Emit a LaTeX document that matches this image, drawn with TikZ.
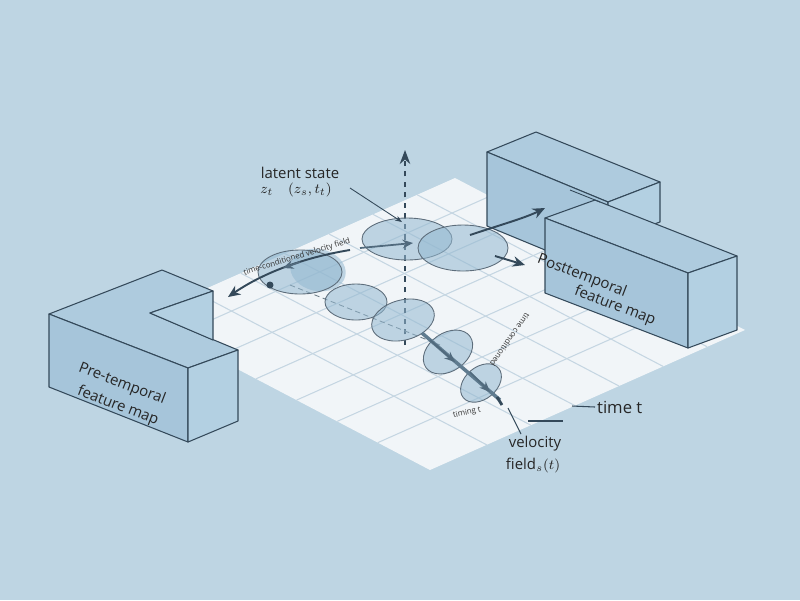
\documentclass[tikz,border=0pt]{standalone}
\usepackage{fontspec}
\setmainfont{Open Sans}
\usetikzlibrary{arrows.meta,calc}
\definecolor{bgblue}{HTML}{BED5E3}
\definecolor{planewhite}{HTML}{F1F5F8}
\definecolor{gridblue}{HTML}{C5D6E2}
\definecolor{boxface}{HTML}{A6C5DA}
\definecolor{boxside}{HTML}{B3D0E2}
\definecolor{boxtop}{HTML}{AECBDE}
\definecolor{edgedark}{HTML}{34495A}
\definecolor{blobfill}{HTML}{93B8D0}
\tikzset{
  box/.style={draw=edgedark, line width=0.6pt, line join=round},
  blob/.style={fill=blobfill, fill opacity=0.55},
  blobline/.style={draw=edgedark!80, line width=0.5pt},
  flow/.style={-{Stealth[length=7pt,width=6pt]}, line width=1.1pt, draw=edgedark},
  inflow/.style={-{Stealth[length=6pt,width=5pt]}, line width=1pt, draw=edgedark!70!blobfill},
  lbl/.style={font=\fontsize{8.5}{10}\selectfont, text=black!85, align=center, inner sep=1pt},
  tinylbl/.style={font=\fontsize{4.5}{5}\selectfont, text=black!80, inner sep=0.5pt},
}
\begin{document}
\begin{tikzpicture}[x=0.02cm, y=-0.02cm]
  \fill[bgblue] (0,0) rectangle (800,600);
  \useasboundingbox (0,0) rectangle (800,600);

  % the time plane and its grid
  \coordinate (P1) at (455,178);
  \coordinate (P2) at (745,330);
  \coordinate (P3) at (430,470);
  \coordinate (P4) at (140,318);
  \fill[planewhite] (P1) -- (P2) -- (P3) -- (P4) -- cycle;
  \foreach \s in {0.12,0.26,0.40,0.54,0.68,0.82}{
    \draw[gridblue, line width=0.6pt] ($(P1)!\s!(P2)$) -- ($(P4)!\s!(P3)$);
    \draw[gridblue, line width=0.6pt] ($(P1)!\s!(P4)$) -- ($(P2)!\s!(P3)$);
  }

  % post-temporal boxes
  \coordinate (B1) at (487,152);
  \coordinate (B2) at (608,202);
  \coordinate (B3) at (660,182);
  \coordinate (B4) at (536,132);
  \draw[box, fill=boxtop] (B1) -- (B4) -- (B3) -- (B2) -- cycle;
  \draw[box, fill=boxface] (B1) -- (B2) -- (608,276) -- (487,226) -- cycle;
  \draw[box, fill=boxside] (B2) -- (B3) -- (660,222) -- (608,240) -- cycle;

  \coordinate (C1) at (545,218);
  \coordinate (C2) at (688,273);
  \coordinate (C3) at (737,256);
  \coordinate (C4) at (595,200);
  \draw[box, fill=boxtop] (C1) -- (C4) -- (C3) -- (C2) -- cycle;
  \draw[box, fill=boxface] (C1) -- (C2) -- (688,348) -- (545,293) -- cycle;
  \draw[box, fill=boxside] (C2) -- (C3) -- (737,330) -- (688,348) -- cycle;
  \draw[edgedark, line width=0.5pt] (570,190) -- (600,202);
  \node[lbl, rotate=-21] (post) at (582,276) {Posttemporal};
  \node[lbl, rotate=-21] (postb) at (615,306) {feature map};

  % pre-temporal box
  \coordinate (A1) at (49,314);
  \coordinate (A2) at (188,368);
  \coordinate (A3) at (238,350);
  \coordinate (A4) at (162,270);
  \coordinate (A5) at (213,291);
  \draw[box, fill=boxtop] (A1) -- (A4) -- (A5) -- (150,313) -- (214,340) -- (A3) -- (A2) -- cycle;
  \draw[box, fill=boxside] (A5) -- (213,340) -- (150,313) -- cycle;
  \draw[box, fill=boxface] (A1) -- (A2) -- (188,442) -- (49,387) -- cycle;
  \draw[box, fill=boxside] (A2) -- (A3) -- (238,421) -- (188,442) -- cycle;
  \node[lbl, rotate=-21] (pre) at (122,384) {Pre-temporal};
  \node[lbl, rotate=-21] (preb) at (118,406) {feature map};

  % vertical axis and guide
  \coordinate (axbot) at (405,345);
  \coordinate (axtop) at (405,150);
  \draw[dashed, edgedark, line width=0.7pt, -{Stealth[length=8pt,width=6pt]}] (axbot) -- (axtop);
  \draw[densely dashed, edgedark!70, line width=0.5pt] (290,285) -- (440,345);

  % latent blobs
  \fill[blob] (300,272) ellipse [x radius=42, y radius=22];
  \fill[blob, rotate around={-12:(318,270)}] (318,270) ellipse [x radius=28, y radius=21];
  \draw[blobline] (300,272) ellipse [x radius=42, y radius=22];
  \fill[blob] (407,239) ellipse [x radius=45, y radius=21];
  \draw[blobline] (407,239) ellipse [x radius=45, y radius=21];
  \fill[blob] (463,248) ellipse [x radius=45, y radius=23];
  \draw[blobline] (463,248) ellipse [x radius=45, y radius=23];
  \fill[blob] (356,302) ellipse [x radius=31, y radius=18];
  \draw[blobline] (356,302) ellipse [x radius=31, y radius=18];
  \fill[blob, rotate around={15:(403,320)}] (403,320) ellipse [x radius=32, y radius=20];
  \draw[blobline, rotate around={15:(403,320)}] (403,320) ellipse [x radius=32, y radius=20];
  \fill[blob, rotate around={35:(448,352)}] (448,352) ellipse [x radius=27, y radius=19];
  \draw[blobline, rotate around={35:(448,352)}] (448,352) ellipse [x radius=27, y radius=19];
  \fill[blob, rotate around={40:(481,383)}] (481,383) ellipse [x radius=23, y radius=16];
  \draw[blobline, rotate around={40:(481,383)}] (481,383) ellipse [x radius=23, y radius=16];

  % flow arrows
  \coordinate (fl0) at (413,243);
  \coordinate (fl1) at (228,297);
  \draw[flow] (350,250) .. controls (300,258) and (260,275) .. (fl1);
  \draw[inflow] (360,248) -- (fl0);
  \draw[inflow] (300,262) -- (283,268);
  \fill[edgedark] (270,285) circle (3.5);
  \draw[flow] (470,235) .. controls (500,225) and (525,218) .. (545,208);
  \draw[flow] (495,256) -- (525,265);
  \draw[line width=2pt, edgedark!55!blobfill] (422,333) -- (500,400);
  \draw[inflow] (430,340) -- (455,362);
  \draw[inflow] (470,372) -- (490,392);
  \draw[line width=1.6pt, edgedark] (497,397) -- (502,405);

  % labels
  \node[lbl] (lat) at (300,173) {latent state};
  \node[lbl] (latz) at (296,190) {$z_t\quad(z_s, t_t)$};
  \coordinate (latend) at (402,222);
  \draw[-{Stealth[length=4pt,width=3pt]}, edgedark, line width=0.5pt] (350,188) -- (latend);
  \node[tinylbl, rotate=17] (tcv) at (297,257) {time-conditioned velocity field};
  \node[tinylbl, rotate=-125] (tc) at (510,340) {time conditioned};
  \node[tinylbl, rotate=12] (tm) at (467,413) {timing t};
  \node[lbl, anchor=west, font=\fontsize{9.5}{11}\selectfont] (tt) at (595,407) {time t};
  \draw[edgedark, line width=0.6pt] (572,406) -- (tt.west);
  \draw[edgedark, line width=0.6pt] (528,421) -- (563,421);
  \node[lbl] (vel) at (535,444) {velocity};
  \node[lbl] (velb) at (533,466) {field$_s(t)$};
  \coordinate (velp) at (508,408);
  \draw[edgedark, line width=0.6pt] (velp) -- (521,434);
\end{tikzpicture}
\end{document}
